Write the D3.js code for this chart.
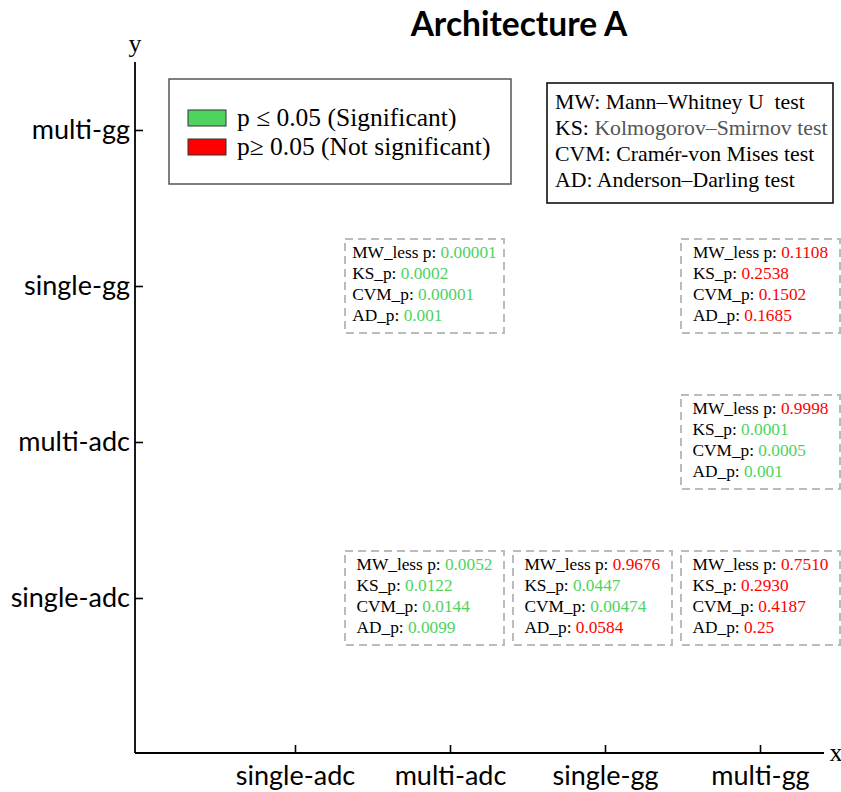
<!DOCTYPE html>
<html>
<head>
<meta charset="utf-8">
<script src="https://cdn.jsdelivr.net/npm/d3@7"></script>
<style>
  html, body { margin: 0; padding: 0; background: #fff; }
  svg { display: block; }
  text { white-space: pre; }
</style>
</head>
<body>
<svg id="chart" width="841" height="792"></svg>
<script>
// Comparison groups on both axes
const xCategories = ["single-adc", "multi-adc", "single-gg", "multi-gg"];
const yCategories = ["single-adc", "multi-adc", "single-gg", "multi-gg"];

// Statistical test labels shown in each annotation
const testLabels = ["MW_less p", "KS_p", "CVM_p", "AD_p"];

// Pairwise comparison cells (column, row) and their p-values
const cellX = ["multi-adc", "multi-gg", "multi-gg", "multi-adc", "single-gg", "multi-gg"];
const cellY = ["single-gg", "single-gg", "multi-adc", "single-adc", "single-adc", "single-adc"];
const mwLessP = ["0.00001", "0.1108", "0.9998", "0.0052", "0.9676", "0.7510"];
const ksP     = ["0.0002", "0.2538", "0.0001", "0.0122", "0.0447", "0.2930"];
const cvmP    = ["0.00001", "0.1502", "0.0005", "0.0144", "0.00474", "0.4187"];
const adP     = ["0.001", "0.1685", "0.001", "0.0099", "0.0584", "0.25"];

const alpha = 0.05;

// Legend entries and test-name glossary
const legendLabels = ["p \u2264 0.05 (Significant)", "p\u2265 0.05 (Not significant)"];
const glossary = [
  ["MW:", "Mann\u2013Whitney U  test"],
  ["KS:", "Kolmogorov\u2013Smirnov test"],
  ["CVM:", "Cram\u00e9r-von Mises test"],
  ["AD:", "Anderson\u2013Darling test"]
];

const GREEN = "#4dd35e";
const RED = "#ff0000";
const SERIF = "'Liberation Serif', 'Times New Roman', serif";
const SANS = "Lato, 'Open Sans', sans-serif";

const svg = d3.select("#chart");

const x = d3.scalePoint().domain(xCategories).range([295, 760]);
const y = d3.scalePoint().domain(yCategories).range([598, 130]);

// Annotation box columns
const boxX = d3.scalePoint().domain(["multi-adc", "single-gg", "multi-gg"]).range([424.5, 760.5]);

const originX = 135, originY = 753;

// Title
svg.append("text")
  .attr("x", 519).attr("y", 36)
  .attr("text-anchor", "middle")
  .style("font-family", SANS).style("font-weight", "bold").style("font-size", "33.5px")
  .text("Architecture A");

// Axis lines
svg.append("line").attr("x1", originX).attr("x2", originX).attr("y1", 62).attr("y2", originY)
  .attr("stroke", "#000").attr("stroke-width", 1.8);
svg.append("line").attr("x1", originX).attr("x2", 824).attr("y1", originY).attr("y2", originY)
  .attr("stroke", "#000").attr("stroke-width", 1.8);

// Y axis ticks and labels
const yAxis = svg.append("g").attr("transform", `translate(${originX},0)`)
  .call(d3.axisLeft(y).tickSizeInner(-8).tickSizeOuter(0).tickPadding(5));
yAxis.select(".domain").remove();
yAxis.selectAll(".tick line").attr("stroke", "#000").attr("stroke-width", 1.6);
yAxis.selectAll(".tick text").attr("fill", "#000")
  .style("font-family", SANS).style("font-size", "27px");

// X axis ticks and labels
const xAxis = svg.append("g").attr("transform", `translate(0,${originY})`)
  .call(d3.axisBottom(x).tickSizeInner(-8).tickSizeOuter(0).tickPadding(13));
xAxis.select(".domain").remove();
xAxis.selectAll(".tick line").attr("stroke", "#000").attr("stroke-width", 1.6);
xAxis.selectAll(".tick text").attr("fill", "#000")
  .style("font-family", SANS).style("font-size", "27px");

// Axis names
svg.append("text").attr("x", 135).attr("y", 52).attr("text-anchor", "middle")
  .style("font-family", SERIF).style("font-size", "26px").text("y");
svg.append("text").attr("x", 836).attr("y", 761).attr("text-anchor", "middle")
  .style("font-family", SERIF).style("font-size", "26px").text("x");

// Significance legend
const legend = svg.append("g");
legend.append("rect").attr("x", 169).attr("y", 79).attr("width", 342).attr("height", 105)
  .attr("fill", "#fff").attr("stroke", "#555").attr("stroke-width", 1.5);
const legendColors = [GREEN, RED];
legendLabels.forEach((label, i) => {
  legend.append("rect").attr("x", 188).attr("y", 110 + i * 29).attr("width", 38).attr("height", 16)
    .attr("fill", legendColors[i]).attr("stroke", "#333").attr("stroke-width", 1);
  legend.append("text").attr("x", 237).attr("y", 126 + i * 28.5)
    .style("font-family", SERIF).style("font-size", "25.5px").text(label);
});

// Test-name glossary
const gloss = svg.append("g");
gloss.append("rect").attr("x", 547).attr("y", 83).attr("width", 286).attr("height", 120)
  .attr("fill", "#fff").attr("stroke", "#000").attr("stroke-width", 1.5);
glossary.forEach((pair, i) => {
  const t = gloss.append("text").attr("x", 555).attr("y", 109 + i * 26)
    .style("font-family", SERIF).style("font-size", "21.8px");
  t.append("tspan").attr("fill", "#000").text(pair[0] + " ");
  t.append("tspan").attr("fill", i === 1 ? "#555" : "#000").text(pair[1]);
});

// P-value annotation boxes
const boxW = 159, boxH = 94;
const cells = cellX.map((cx, i) => ({
  col: cx, row: cellY[i],
  values: [mwLessP[i], ksP[i], cvmP[i], adP[i]]
}));

const boxes = svg.append("g").selectAll("g.cell").data(cells).join("g").attr("class", "cell");

boxes.append("rect")
  .attr("x", d => boxX(d.col) - boxW / 2)
  .attr("y", d => y(d.row) - boxH / 2)
  .attr("width", boxW).attr("height", boxH)
  .attr("fill", "#fff").attr("stroke", "#bbb").attr("stroke-width", 2)
  .attr("stroke-dasharray", "8,5");

boxes.each(function(d) {
  const g = d3.select(this);
  const block = g.append("g");
  d.values.forEach((v, i) => {
    const t = block.append("text").attr("x", 0).attr("y", y(d.row) - 28 + i * 21)
      .style("font-family", SERIF).style("font-size", "17.3px");
    t.append("tspan").attr("fill", "#000").text(testLabels[i] + ": ");
    t.append("tspan").attr("fill", +v <= alpha ? GREEN : RED).text(v);
  });
  const w = block.node().getBBox().width;
  block.attr("transform", `translate(${boxX(d.col) - w / 2},0)`);
});
</script>
</body>
</html>
